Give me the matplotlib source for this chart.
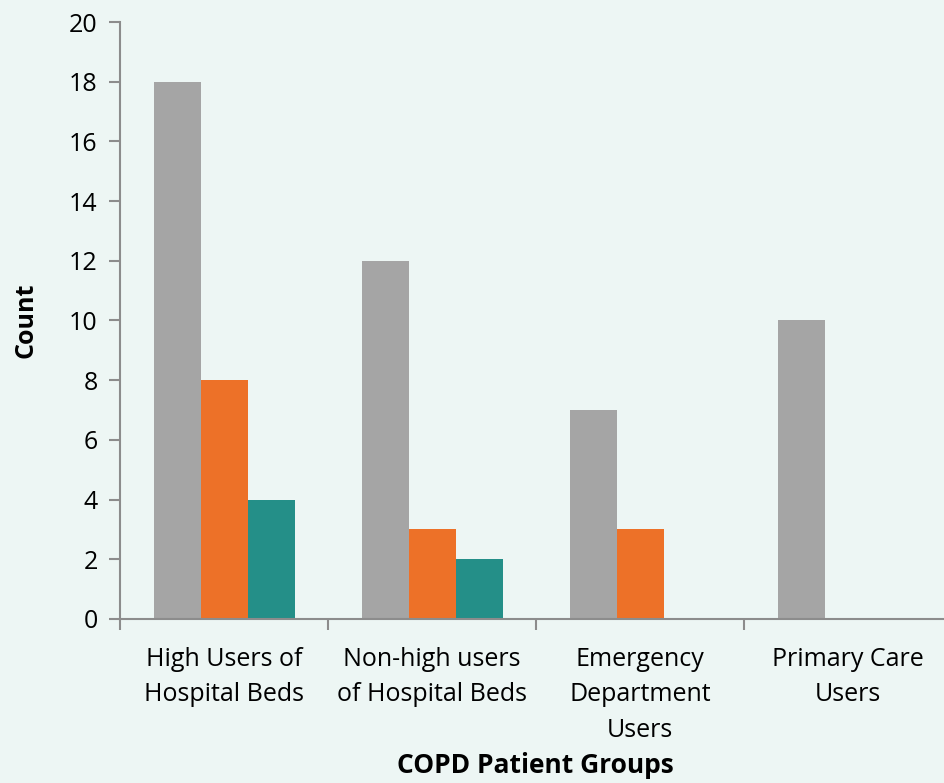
import numpy as np
import matplotlib; matplotlib.use("Agg")
import matplotlib.pyplot as plt

groups = ["High Users of\nHospital Beds", "Non-high users\nof Hospital Beds",
          "Emergency\nDepartment\nUsers", "Primary Care\nUsers"]
grey_vals = [18, 12, 7, 10]
orange_vals = [8, 3, 3, 0]
teal_vals = [4, 2, 0, 0]
yticks = list(range(0, 21, 2))

BG = "#edf6f4"; AX = "#8c8c8c"
plt.rcParams["font.family"] = ["Open Sans", "DejaVu Sans"]
fig = plt.figure(figsize=(9.45, 7.83), dpi=100, facecolor=BG)
ax = fig.add_axes([0.127, 0.2095, 0.8805, 0.7624], facecolor=BG)

x = np.arange(len(groups)); w = 0.226
for off, vals, c in [(-w, grey_vals, "#a5a5a5"), (0, orange_vals, "#ed7128"), (w, teal_vals, "#248f88")]:
    ax.bar(x + off, vals, width=w, color=c, zorder=2)

ax.set_xlim(-0.5, len(groups) - 0.5)
ax.set_ylim(0, 20)
ax.set_yticks(yticks)
ax.set_xticks(x)
ax.set_xticklabels(groups, fontsize=18, linespacing=1.55, va="top")
ax.set_xticks(np.arange(len(groups) + 1) - 0.5, minor=True)
ax.tick_params(axis="x", which="major", length=0, pad=20)
ax.tick_params(axis="x", which="minor", length=8, width=1.5, color=AX, direction="out")
ax.tick_params(axis="y", length=8, width=1.5, color=AX, labelsize=18, pad=8)
for s in ["top", "right"]:
    ax.spines[s].set_visible(False)
for s in ["left", "bottom"]:
    ax.spines[s].set_color(AX); ax.spines[s].set_linewidth(1.5)
ax.set_ylabel("Count", fontsize=18, fontweight="bold", labelpad=22)
fig.text(0.567, 0.005, "COPD Patient Groups", ha="center", va="bottom", fontsize=19, fontweight="bold")
fig.savefig("out.png", dpi=100, facecolor=BG)
